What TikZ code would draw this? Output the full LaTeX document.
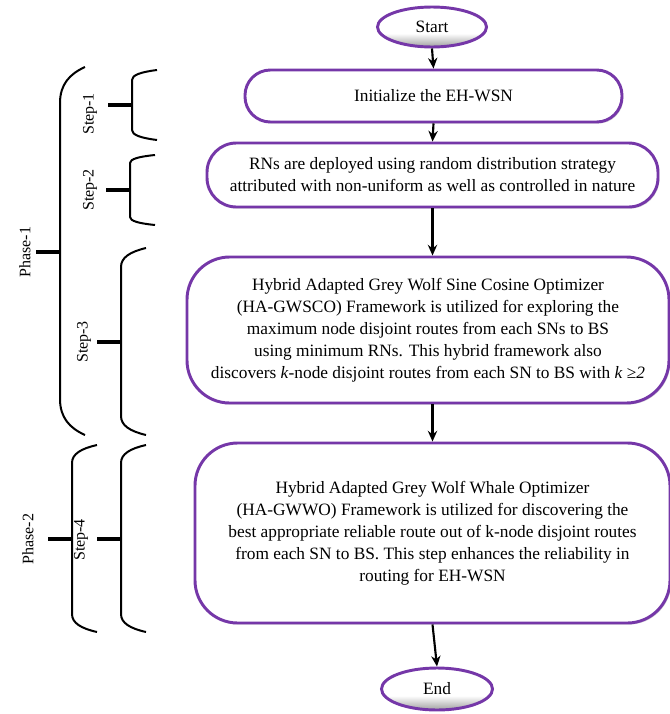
\documentclass[tikz,border=0pt]{standalone}
\usepackage{fontspec}
\setmainfont{Liberation Serif}
\usetikzlibrary{arrows.meta,shapes.geometric,shadows}
\definecolor{boxpurple}{RGB}{117,55,168}
\pgfdeclareverticalshading{termshade}{100bp}{color(0bp)=(gray!80); color(25bp)=(gray!75);
  color(42bp)=(white); color(100bp)=(white)}

\begin{document}
\begin{tikzpicture}[x=0.75pt,y=-0.75pt,line width=1.5pt,>=Stealth,
  flow/.style={draw=boxpurple,line width=2.2pt,fill=white,align=center,
    font=\fontsize{13}{16.5}\selectfont,inner sep=0pt,
    drop shadow={shadow xshift=1pt,shadow yshift=-1.2pt,opacity=0.3}},
  term/.style={ellipse,draw=boxpurple,line width=2.2pt,shading=termshade,
    font=\fontsize{13}{16}\selectfont},
  arr/.style={-{Stealth[length=8pt,width=7pt]},line width=1.6pt},
  lbl/.style={rotate=90,font=\fontsize{12}{14}\selectfont,inner sep=0pt},
  tick/.style={line width=2.3pt}]
\useasboundingbox (0,0) rectangle (670,714);
% brace: x, top end, bottom end, curve height, tick y
\newcommand{\brkt}[5]{
  \draw (#1+25,#2) .. controls (#1+9,#2+0.2*#4) and (#1,#2+0.5*#4) .. (#1,#2+#4)
    -- (#1,#3-#4) .. controls (#1,#3-0.5*#4) and (#1+9,#3-0.2*#4) .. (#1+25,#3);
  \draw[tick] (#1-24,#5) -- (#1,#5);}
% flow boxes
\node[term,minimum width=81.75pt,minimum height=30pt] (start) at (432,27) {Start};
\node[flow,minimum width=282.75pt,minimum height=39pt,rounded corners=19pt]
  (init) at (433.5,96) {Initialize the EH-WSN};
\node[flow,minimum width=338.25pt,minimum height=48pt,rounded corners=22pt]
  (deploy) at (432.5,175) {RNs are deployed using random distribution strategy\\
  attributed with non-uniform as well as controlled in nature};
\node[flow,minimum width=361.5pt,minimum height=109.5pt,rounded corners=32pt]
  (gwsco) at (428,330) {Hybrid Adapted Grey Wolf Sine Cosine Optimizer\\
  (HA-GWSCO) Framework is utilized for exploring the\\
  maximum node disjoint routes from each SNs to BS\\
  using minimum RNs. This hybrid framework also\\
  discovers \textit{k}-node disjoint routes from each SN to BS with \textit{k} ≥\textit{2}};
\node[flow,minimum width=356.25pt,minimum height=135pt,rounded corners=32pt]
  (gwwo) at (432.5,533) {Hybrid Adapted Grey Wolf Whale Optimizer\\
  (HA-GWWO) Framework is utilized for discovering the\\
  best appropriate reliable route out of k-node disjoint routes\\
  from each SN to BS. This step enhances the reliability in\\
  routing for EH-WSN};
\node[term,minimum width=83.25pt,minimum height=31.5pt] (stop) at (437,689) {End};
% arrows
\draw[arr] (start.south) -- (init.north);
\draw[arr] (init.south) -- (deploy.north);
\draw[arr] (deploy.south) -- (deploy.south |- gwsco.north);
\draw[arr] (gwwo.north |- gwsco.south) -- (gwwo.north);
\draw[arr] (gwwo.south) -- (stop.north);
% ---------- phases and steps ----------
\brkt{60}{67}{435}{36}{252}
\brkt{132}{70}{140}{10}{105}
\brkt{130}{155}{225}{8}{190}
\brkt{121}{248}{435}{19}{342}
\brkt{72}{445}{632}{18}{539}
\brkt{121}{445}{632}{18}{539}
\node[lbl] (ph1) at (25,252) {Phase-1};
\node[lbl] (st1) at (90,114) {Step-1};
\node[lbl] (st2) at (90,190) {Step-2};
\node[lbl] (st3) at (84,342) {Step-3};
\node[lbl] (ph2) at (28,539) {Phase-2};
\node[lbl] (st4) at (81,540) {Step-4};
\end{tikzpicture}
\end{document}
